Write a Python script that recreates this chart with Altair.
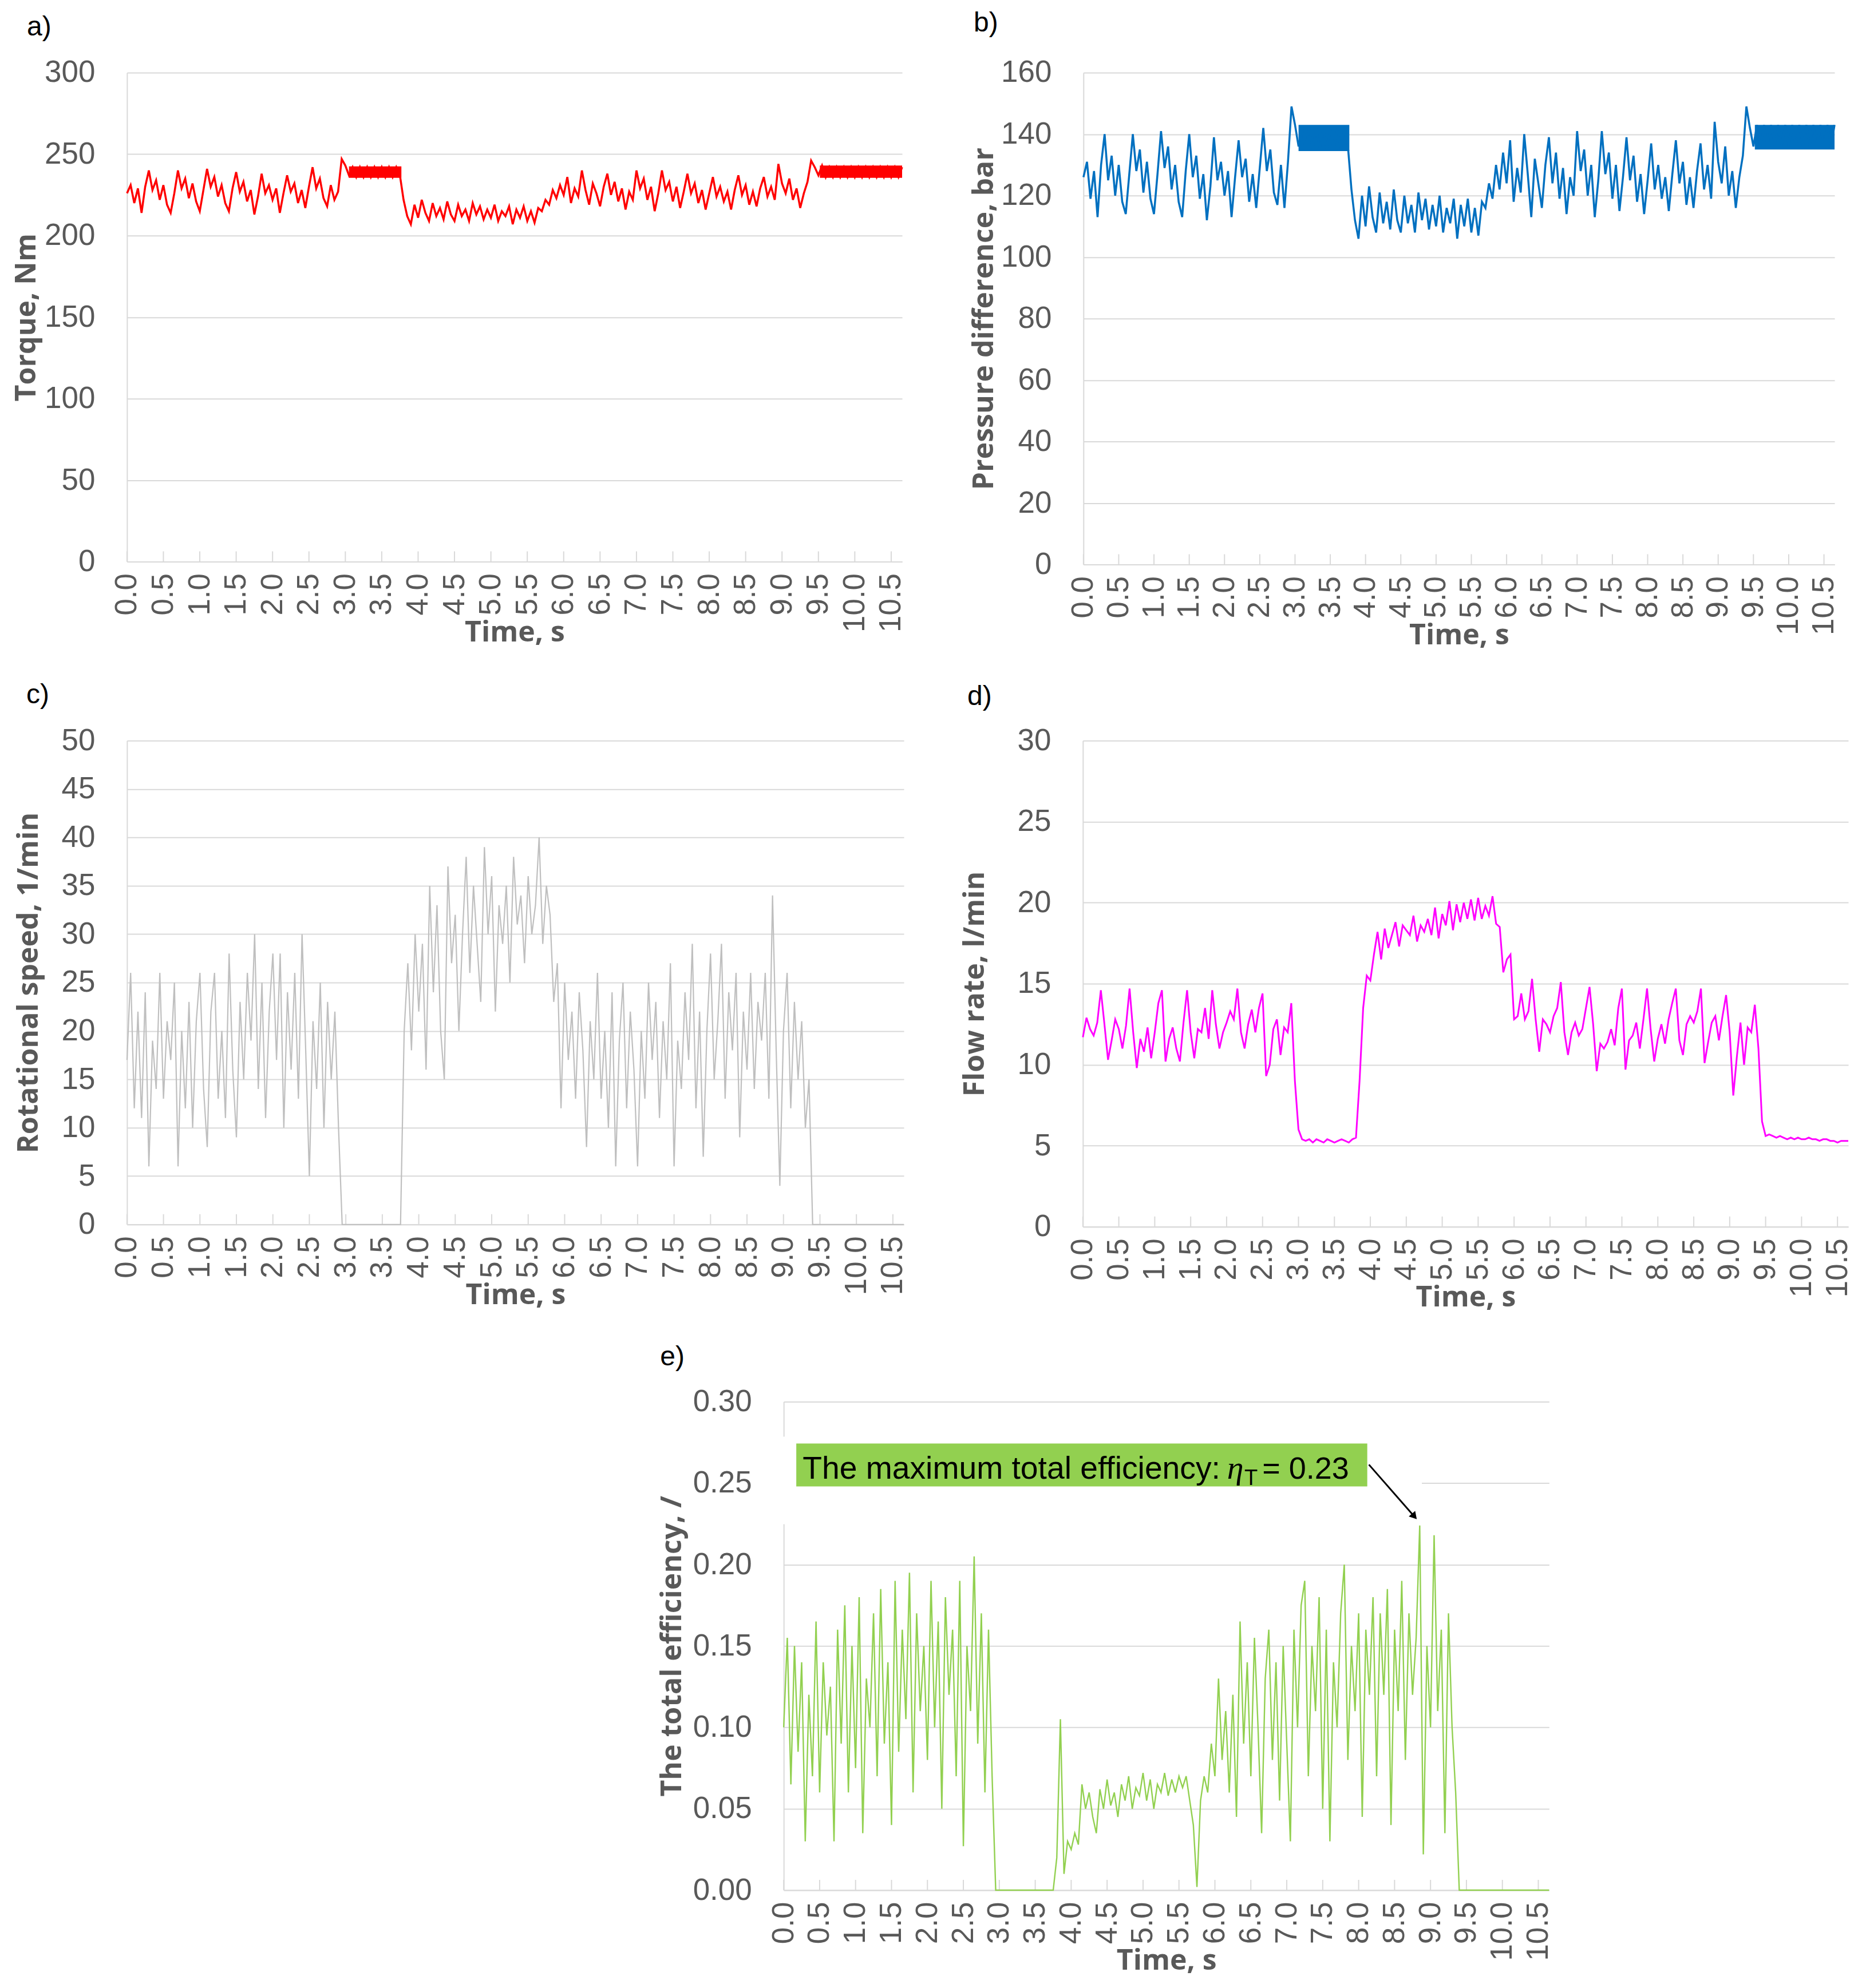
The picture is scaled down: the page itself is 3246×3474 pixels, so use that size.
import altair as alt
import pandas as pd

STEP = 0.05
X_MAX = 10.65
TIME_TICKS = [0.0, 0.5, 1.0, 1.5, 2.0, 2.5, 3.0, 3.5, 4.0, 4.5, 5.0, 5.5,
              6.0, 6.5, 7.0, 7.5, 8.0, 8.5, 9.0, 9.5, 10.0, 10.5]

torque = [
    226, 231, 220, 229, 214, 230, 240, 228, 234, 222,
    231, 219, 214, 226, 240, 229, 235, 223, 232, 221,
    215, 228, 241, 230, 236, 224, 231, 220, 215, 229,
    239, 227, 233, 221, 228, 213, 224, 238, 226, 231,
    222, 229, 214, 226, 237, 227, 232, 220, 228, 217,
    230, 242, 229, 235, 223, 218, 231, 222, 227, 247,
    243, 237, 242, 236, 242, 236, 242, 236, 242, 236,
    242, 236, 242, 236, 242, 237, 222, 212, 207, 219,
    211, 222, 214, 209, 220, 212, 217, 210, 221, 213,
    209, 219, 212, 216, 209, 220, 213, 218, 210, 216,
    211, 219, 209, 215, 212, 218, 207, 216, 211, 218,
    209, 215, 208, 217, 215, 222, 219, 228, 223, 231,
    225, 236, 220, 229, 224, 240, 228, 219, 232, 226,
    218, 230, 238, 225, 233, 221, 229, 216, 227, 222,
    240, 229, 235, 222, 230, 215, 226, 240, 228, 233,
    221, 230, 217, 227, 238, 226, 232, 220, 228, 216,
    226, 236, 224, 230, 221, 227, 216, 228, 237, 225,
    231, 219, 227, 218, 229, 236, 224, 230, 222, 244,
    232, 226, 235, 222, 229, 217, 226, 233, 246, 242,
    237, 243, 236, 242, 236, 242, 236, 242, 236, 242,
    236, 242, 236, 242, 236, 242, 236, 242, 236, 242,
    236, 242, 236, 242,
]

pressure = [
    126, 131, 119, 128, 113, 130, 140, 125, 133, 120,
    130, 118, 114, 127, 140, 128, 135, 121, 131, 119,
    114, 127, 141, 129, 136, 122, 130, 118, 113, 128,
    140, 126, 133, 119, 127, 112, 123, 139, 125, 131,
    120, 128, 113, 126, 138, 126, 132, 118, 127, 116,
    129, 142, 128, 135, 121, 117, 130, 116, 131, 149,
    143, 136, 142, 135, 142, 135, 142, 135, 142, 135,
    142, 135, 142, 135, 142, 136, 122, 112, 106, 120,
    110, 123, 113, 108, 121, 111, 118, 109, 122, 112,
    108, 120, 111, 117, 108, 121, 112, 119, 109, 117,
    110, 120, 108, 116, 111, 119, 106, 117, 110, 119,
    108, 116, 107, 118, 116, 124, 119, 130, 122, 134,
    124, 138, 118, 129, 121, 140, 127, 113, 132, 124,
    116, 130, 139, 124, 134, 119, 129, 114, 126, 120,
    141, 128, 135, 120, 130, 113, 125, 141, 127, 134,
    119, 130, 115, 126, 139, 125, 133, 118, 127, 114,
    125, 137, 122, 130, 119, 126, 115, 127, 138, 124,
    131, 117, 126, 116, 128, 137, 122, 130, 119, 144,
    131, 124, 136, 120, 128, 116, 126, 133, 149, 142,
    136, 143, 136, 143, 136, 143, 136, 143, 136, 143,
    136, 143, 136, 143, 136, 143, 136, 143, 136, 143,
    136, 143, 136, 143,
]

speed = [
    17, 26, 12, 22, 11, 24, 6, 19, 14, 26,
    13, 21, 17, 25, 6, 20, 12, 23, 10, 21,
    26, 14, 8, 22, 26, 13, 20, 11, 28, 16,
    9, 23, 15, 26, 19, 30, 14, 25, 11, 22,
    28, 17, 28, 10, 24, 16, 26, 13, 30, 18,
    5, 21, 14, 25, 10, 23, 15, 22, 10, 0,
    0, 0, 0, 0, 0, 0, 0, 0, 0, 0,
    0, 0, 0, 0, 0, 0, 20, 27, 18, 30,
    22, 29, 16, 35, 24, 33, 20, 15, 37, 27,
    32, 20, 30, 38, 26, 35, 29, 23, 39, 30,
    36, 22, 33, 29, 35, 25, 38, 31, 34, 27,
    36, 30, 33, 40, 29, 35, 32, 23, 27, 12,
    25, 17, 22, 13, 24, 18, 8, 21, 15, 26,
    13, 20, 10, 24, 6, 19, 25, 12, 22, 16,
    6, 20, 13, 25, 17, 23, 11, 21, 15, 27,
    6, 19, 14, 24, 17, 29, 12, 22, 7, 20,
    28, 15, 21, 29, 13, 24, 18, 26, 9, 22,
    16, 26, 14, 23, 19, 26, 13, 34, 18, 4,
    20, 26, 12, 23, 15, 21, 10, 15, 0, 0,
    0, 0, 0, 0, 0, 0, 0, 0, 0, 0,
    0, 0, 0, 0, 0, 0, 0, 0, 0, 0,
    0, 0, 0, 0,
]

flow = [
    11.7, 12.9, 12.2, 11.8, 12.6, 14.6, 12.5, 10.3, 11.5, 12.8,
    12.2, 11.0, 12.4, 14.7, 12.0, 9.8, 11.6, 10.8, 12.3, 10.4,
    12.0, 13.8, 14.6, 10.2, 11.6, 12.3, 11.0, 10.2, 12.6, 14.6,
    12.0, 10.4, 12.2, 12.0, 13.5, 11.6, 14.6, 12.5, 11.0, 12.0,
    12.6, 13.3, 12.8, 14.7, 12.0, 11.0, 12.5, 13.4, 12.0, 13.5,
    14.4, 9.3, 10.0, 12.2, 12.8, 10.6, 12.3, 12.0, 13.8, 9.0,
    6.0, 5.4, 5.3, 5.4, 5.2, 5.4, 5.3, 5.2, 5.4, 5.3,
    5.2, 5.3, 5.4, 5.3, 5.2, 5.4, 5.5, 9.0, 13.5, 15.5,
    15.2, 16.8, 18.2, 16.5, 18.4, 17.2, 18.0, 18.8, 17.3, 18.6,
    18.3, 18.0, 19.2, 17.6, 18.6, 18.2, 19.0, 18.0, 19.7, 17.8,
    19.3, 18.6, 20.1, 18.3, 19.9, 18.8, 20.0, 19.0, 20.2, 18.9,
    20.3, 19.0, 19.8, 19.2, 20.4, 18.7, 18.5, 15.7, 16.5, 16.8,
    12.8, 13.0, 14.4, 12.8, 13.3, 15.3, 12.8, 10.8, 12.8, 12.5,
    12.0, 13.0, 13.5, 15.1, 12.0, 10.6, 12.0, 12.6, 11.8, 12.2,
    13.5, 14.8, 12.5, 9.6, 11.3, 11.0, 11.4, 12.2, 11.2, 13.5,
    14.7, 9.7, 11.5, 11.8, 12.6, 11.0, 12.8, 14.7, 12.2, 10.2,
    11.6, 12.5, 11.3, 12.8, 13.8, 14.7, 11.5, 10.6, 12.5, 13.0,
    12.6, 13.3, 14.7, 10.1, 11.4, 12.6, 13.0, 11.5, 13.0, 14.3,
    12.0, 8.1, 10.5, 12.6, 10.0, 12.3, 12.0, 13.7, 11.0, 6.5,
    5.6, 5.7, 5.6, 5.5, 5.6, 5.5, 5.4, 5.5, 5.4, 5.5,
    5.4, 5.4, 5.5, 5.4, 5.4, 5.3, 5.4, 5.4, 5.3, 5.3,
    5.2, 5.3, 5.3, 5.3,
]

efficiency = [
    0.100, 0.155, 0.065, 0.150, 0.085, 0.140, 0.030, 0.120, 0.070, 0.165,
    0.060, 0.140, 0.095, 0.125, 0.030, 0.160, 0.090, 0.175, 0.060, 0.150,
    0.075, 0.180, 0.035, 0.130, 0.100, 0.170, 0.070, 0.185, 0.090, 0.140,
    0.040, 0.190, 0.085, 0.160, 0.105, 0.195, 0.060, 0.170, 0.110, 0.150,
    0.080, 0.190, 0.100, 0.165, 0.050, 0.180, 0.120, 0.160, 0.070, 0.190,
    0.027, 0.150, 0.110, 0.205, 0.090, 0.170, 0.060, 0.160, 0.070, 0.000,
    0.000, 0.000, 0.000, 0.000, 0.000, 0.000, 0.000, 0.000, 0.000, 0.000,
    0.000, 0.000, 0.000, 0.000, 0.000, 0.000, 0.020, 0.105, 0.010, 0.030,
    0.025, 0.035, 0.028, 0.065, 0.050, 0.060, 0.045, 0.035, 0.062, 0.050,
    0.068, 0.052, 0.060, 0.045, 0.065, 0.055, 0.070, 0.050, 0.063, 0.058,
    0.072, 0.055, 0.068, 0.050, 0.065, 0.060, 0.072, 0.058, 0.068, 0.060,
    0.070, 0.063, 0.070, 0.055, 0.040, 0.002, 0.055, 0.070, 0.060, 0.090,
    0.070, 0.130, 0.080, 0.110, 0.060, 0.120, 0.045, 0.165, 0.090, 0.140,
    0.070, 0.155, 0.100, 0.035, 0.130, 0.160, 0.080, 0.140, 0.055, 0.150,
    0.090, 0.030, 0.160, 0.100, 0.175, 0.190, 0.070, 0.150, 0.110, 0.180,
    0.050, 0.160, 0.030, 0.140, 0.100, 0.170, 0.200, 0.080, 0.150, 0.110,
    0.170, 0.045, 0.160, 0.120, 0.180, 0.070, 0.170, 0.120, 0.185, 0.040,
    0.160, 0.110, 0.190, 0.080, 0.170, 0.120, 0.155, 0.224, 0.022, 0.150,
    0.100, 0.218, 0.110, 0.160, 0.035, 0.170, 0.100, 0.060, 0.000, 0.000,
    0.000, 0.000, 0.000, 0.000, 0.000, 0.000, 0.000, 0.000, 0.000, 0.000,
    0.000, 0.000, 0.000, 0.000, 0.000, 0.000, 0.000, 0.000, 0.000, 0.000,
    0.000, 0.000, 0.000, 0.000,
]

# dense oscillation bands (start, end time; low, high value)
torque_band_t = [[3.05, 3.77], [9.52, 10.65]]
torque_band_v = [[235.5, 242.5], [235.5, 243.0]]
pressure_band_t = [[3.05, 3.77], [9.52, 10.65]]
pressure_band_v = [[134.5, 143.0], [135.0, 143.0]]

torque_ticks = [0, 50, 100, 150, 200, 250, 300]
pressure_ticks = [0, 20, 40, 60, 80, 100, 120, 140, 160]
speed_ticks = [0, 5, 10, 15, 20, 25, 30, 35, 40, 45, 50]
flow_ticks = [0, 5, 10, 15, 20, 25, 30]
eff_ticks = [0.0, 0.05, 0.10, 0.15, 0.20, 0.25, 0.30]

# annotation of panel e)
note_main = "The maximum total efficiency: "
note_eta = "\u03b7"
note_sub = "T"
note_value = "= 0.23"
note_frame_t = [-0.03, 8.88]
note_frame_v = [0.2248, 0.2786]
note_box_t = [0.175, 8.12]
note_box_v = [0.248, 0.2744]
note_text_t = [0.263, 6.17, 6.41, 6.66]
note_text_v = [0.2526, 0.2526, 0.2490, 0.2526]
arrow_t = [8.143, 8.764]
arrow_v = [0.2614, 0.2301]

time = [round(i * STEP, 2) for i in range(len(torque))]

GRID = "#D9D9D9"
TXT = "#595959"
LABEL_FONT = "Liberation Sans"
TITLE_FONT = "Open Sans"


def make_panel(values, color, stroke_w, y_title, y_ticks, y_fmt, letter,
               w, h, y_extent, letter_dx, letter_offset, extra=None,
               band_t=None, band_v=None):
    df = pd.DataFrame({"t": time, "v": values})
    xs = alt.Scale(domain=[0, X_MAX], nice=False, zero=False)
    ys = alt.Scale(domain=[y_ticks[0], y_ticks[-1]], nice=False, zero=False)
    x_axis = alt.Axis(values=TIME_TICKS, format=".1f", labelAngle=-90,
                      title="Time, s", grid=False, ticks=False, tickSize=0,
                      labelPadding=20, labelFlush=False, labelOverlap=False,
                      minExtent=93, maxExtent=93, titlePadding=6,
                      domainColor=GRID, domainWidth=2)
    y_axis = alt.Axis(values=y_ticks, format=y_fmt, title=y_title, grid=True,
                      gridColor=GRID, gridWidth=2, ticks=False, tickSize=0,
                      labelPadding=56, labelOverlap=False,
                      minExtent=y_extent, maxExtent=y_extent, titlePadding=0,
                      domainColor=GRID, domainWidth=2)

    def X(field):
        return alt.X(field, type="quantitative", scale=xs, axis=x_axis)

    def Y(field):
        return alt.Y(field, type="quantitative", scale=ys, axis=y_axis)

    tick_df = pd.DataFrame({"t": TIME_TICKS})
    ticks = alt.Chart(tick_df).mark_rule(color=GRID, strokeWidth=2).encode(
        x=X("t"), y=alt.value(h - 18), y2=alt.value(h))
    line = alt.Chart(df).mark_line(color=color, strokeWidth=stroke_w,
                                   strokeJoin="miter").encode(
        x=X("t"), y=Y("v"))
    layers = [ticks]
    if band_t is not None:
        bdf = pd.DataFrame({"t": [b[0] for b in band_t], "t2": [b[1] for b in band_t],
                            "v": [b[0] for b in band_v], "v2": [b[1] for b in band_v]})
        layers.append(alt.Chart(bdf).mark_rect(color=color).encode(
            x=X("t"), x2="t2:Q", y=Y("v"), y2="v2:Q"))
    layers.append(line)
    if extra is not None:
        layers += extra(X, Y)
    return alt.layer(*layers).properties(
        width=w, height=h,
        title=alt.TitleParams(letter, anchor="start", frame="bounds",
                              dx=letter_dx, offset=letter_offset),
    )


def eff_annotation(X, Y):
    def rect(ts, vs, color):
        d = pd.DataFrame({"t": [ts[0]], "t2": [ts[1]], "v": [vs[0]], "v2": [vs[1]]})
        return alt.Chart(d).mark_rect(color=color).encode(
            x=X("t"), x2="t2:Q", y=Y("v"), y2="v2:Q")

    def txt(i, label, size, style="normal", font=LABEL_FONT):
        d = pd.DataFrame({"t": [note_text_t[i]], "v": [note_text_v[i]], "s": [label]})
        return alt.Chart(d).mark_text(align="left", baseline="alphabetic", font=font,
                                      fontSize=size, fontStyle=style, color="black").encode(
            x=X("t"), y=Y("v"), text="s:N")

    d_ar = pd.DataFrame({"t": [arrow_t[0]], "t2": [arrow_t[1]],
                         "v": [arrow_v[0]], "v2": [arrow_v[1]]})
    arrow = alt.Chart(d_ar).mark_rule(color="black", strokeWidth=3).encode(
        x=X("t"), x2="t2:Q", y=Y("v"), y2="v2:Q")
    d_head = pd.DataFrame({"t": [arrow_t[1]], "v": [arrow_v[1]]})
    head = alt.Chart(d_head).mark_point(
        shape="triangle", filled=True, color="black", opacity=1, size=220, angle=139).encode(
        x=X("t"), y=Y("v"))
    return [rect(note_frame_t, note_frame_v, "white"),
            rect(note_box_t, note_box_v, "#92D050"),
            txt(0, note_main, 55.3),
            txt(1, note_eta, 58, "italic", "Liberation Serif"),
            txt(2, note_sub, 38),
            txt(3, note_value, 54),
            arrow, head]


pa = make_panel(torque, "#FF0000", 3.5, "Torque, Nm", torque_ticks, "d", "a)",
                1355, 855, 150, 25, 29, band_t=torque_band_t, band_v=torque_band_v)
pb = make_panel(pressure, "#0070C0", 3.5, "Pressure difference, bar", pressure_ticks, "d", "b)",
                1313, 860, 148, 6, 36, band_t=pressure_band_t, band_v=pressure_band_v)
pc = make_panel(speed, "#BFBFBF", 2.2, "Rotational speed, 1/min", speed_ticks, "d", "c)",
                1358, 846, 146, 20, 29)
pd_ = make_panel(flow, "#FF00FF", 3, "Flow rate, l/min", flow_ticks, "d", "d)",
                 1338, 850, 163, 11, 26)
pe = make_panel(efficiency, "#92D050", 2.4, "The total efficiency, /", eff_ticks, ".2f", "e)",
                1338, 854, 170, 4, 28, extra=eff_annotation)

spacer = alt.Chart(pd.DataFrame({"t": [0]})).mark_point(opacity=0).encode(
    x=alt.value(10), y=alt.value(5)).properties(width=928, height=10)

row1 = alt.hconcat(pa, pb, spacing=111)
row2 = alt.hconcat(pc, pd_, spacing=92)
row3 = alt.hconcat(spacer, pe, spacing=0)

chart = alt.vconcat(row1, alt.vconcat(row2, row3, spacing=55), spacing=56).properties(
    padding={"left": 14, "top": 8, "right": 0, "bottom": 4}
).configure_view(stroke=None).configure_axis(
    labelFont=LABEL_FONT, labelFontSize=53, labelColor=TXT,
    titleFont=TITLE_FONT, titleFontSize=50, titleFontWeight="bold", titleColor=TXT,
).configure_title(
    font=LABEL_FONT, fontSize=48, fontWeight="normal", color="black", anchor="start"
)

chart.save("out.html", embed_options={"renderer": "svg", "actions": False})
